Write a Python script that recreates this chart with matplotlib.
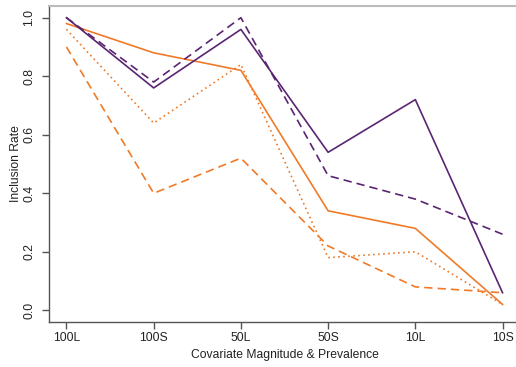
import matplotlib
matplotlib.use("Agg")
import matplotlib.pyplot as plt

categories = ["100L", "100S", "50L", "50S", "10L", "10S"]
purple_solid = [1.00, 0.76, 0.96, 0.54, 0.72, 0.06]
purple_dashed = [1.00, 0.78, 1.00, 0.46, 0.38, 0.26]
orange_solid = [0.98, 0.88, 0.82, 0.34, 0.28, 0.02]
orange_dotted = [0.96, 0.64, 0.84, 0.18, 0.20, 0.02]
orange_dashed = [0.90, 0.40, 0.52, 0.22, 0.08, 0.06]
yticks = [0.0, 0.2, 0.4, 0.6, 0.8, 1.0]

plt.rcParams['font.family'] = ['Liberation Sans', 'DejaVu Sans']

PURPLE = '#5A2572'
ORANGE = '#F07A28'
AXC = '#555555'

fig = plt.figure(figsize=(5.16, 3.67), dpi=100)
ax = fig.add_axes([49/516, 1 - 322/367, (520 - 49)/516, (322 - 6)/367])

x = list(range(1, len(categories) + 1))
lw = 1.2
ax.plot(x, orange_dashed, color=ORANGE, lw=lw, linestyle=(0, (5, 3)))
ax.plot(x, orange_dotted, color=ORANGE, lw=lw, linestyle=(0, (1, 2)))
ax.plot(x, orange_solid, color=ORANGE, lw=lw)
ax.plot(x, purple_dashed, color=PURPLE, lw=lw, linestyle=(0, (5, 3)))
ax.plot(x, purple_solid, color=PURPLE, lw=lw)

ax.set_xlim(0.8, 6.2)
ax.set_ylim(-0.04, 1.04)
ax.set_xticks(x)
ax.set_xticklabels(categories)
ax.set_yticks(yticks)
ax.set_yticklabels([f"{v:.1f}" for v in yticks], rotation=90, va='center')

for s in ['left', 'bottom']:
    ax.spines[s].set_color(AXC)
    ax.spines[s].set_linewidth(1.0)
ax.spines['top'].set_color('#BBBBBB')
ax.spines['top'].set_linewidth(1.5)
ax.spines['right'].set_visible(False)

ax.tick_params(axis='both', colors=AXC, length=5, width=1.0, labelsize=8.7,
               labelcolor='#222222')
ax.tick_params(axis='x', pad=2)
ax.tick_params(axis='y', pad=5)

ax.set_xlabel("Covariate Magnitude & Prevalence", fontsize=8.7, color='#222222', labelpad=4)
ax.set_ylabel("Inclusion Rate", fontsize=8.7, color='#222222')
ax.yaxis.set_label_coords((22 - 49) / 471, 0.5)

fig.savefig("out.png", dpi=100)
